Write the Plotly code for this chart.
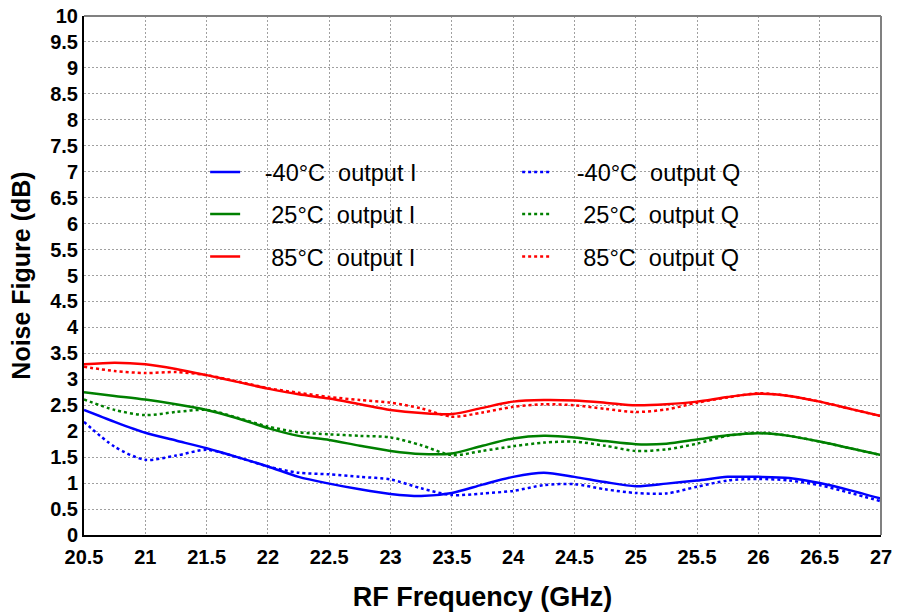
import plotly.graph_objects as go

freq = [20.5, 20.75, 21, 21.25, 21.5, 21.75, 22, 22.25, 22.5, 22.75, 23, 23.25, 23.5,
        23.75, 24, 24.25, 24.5, 24.75, 25, 25.25, 25.5, 25.75, 26, 26.25, 26.5, 26.75, 27]

nf_m40_I = [2.41, 2.18, 1.97, 1.82, 1.67, 1.50, 1.32, 1.12, 0.99, 0.88, 0.79, 0.75, 0.81,
            0.97, 1.12, 1.20, 1.12, 1.02, 0.94, 0.99, 1.05, 1.12, 1.12, 1.10, 1.00, 0.86, 0.70]
nf_m40_Q = [2.18, 1.70, 1.45, 1.53, 1.64, 1.50, 1.32, 1.20, 1.17, 1.12, 1.07, 0.90, 0.77,
            0.80, 0.85, 0.96, 0.98, 0.88, 0.81, 0.80, 0.93, 1.05, 1.08, 1.05, 0.96, 0.81, 0.65]
nf_25_I = [2.75, 2.68, 2.61, 2.52, 2.41, 2.25, 2.06, 1.91, 1.83, 1.72, 1.62, 1.56, 1.57,
           1.72, 1.86, 1.91, 1.88, 1.81, 1.75, 1.76, 1.84, 1.92, 1.96, 1.91, 1.80, 1.67, 1.54]
nf_25_Q = [2.61, 2.41, 2.31, 2.37, 2.41, 2.26, 2.09, 1.98, 1.94, 1.91, 1.88, 1.73, 1.54,
           1.62, 1.71, 1.78, 1.80, 1.72, 1.62, 1.65, 1.76, 1.91, 1.97, 1.91, 1.80, 1.67, 1.54]
nf_85_I = [3.29, 3.32, 3.29, 3.20, 3.08, 2.95, 2.82, 2.71, 2.63, 2.52, 2.41, 2.35, 2.33,
           2.45, 2.57, 2.60, 2.59, 2.55, 2.50, 2.52, 2.57, 2.66, 2.72, 2.68, 2.57, 2.43, 2.29]
nf_85_Q = [3.24, 3.16, 3.12, 3.14, 3.08, 2.96, 2.83, 2.74, 2.66, 2.60, 2.55, 2.44, 2.28,
           2.36, 2.47, 2.52, 2.50, 2.43, 2.37, 2.42, 2.55, 2.65, 2.73, 2.68, 2.57, 2.43, 2.29]

NB = "\u00a0"
series = [
    (NB * 3 + "-40°C" + NB * 2 + "output I", nf_m40_I, "#0000FF", "solid", "legend"),
    (NB * 3 + "-40°C" + NB * 2 + "output Q", nf_m40_Q, "#0000FF", "dot", "legend"),
    (NB * 4 + "25°C" + NB * 2 + "output I", nf_25_I, "#008000", "solid", "legend2"),
    (NB * 4 + "25°C" + NB * 2 + "output Q", nf_25_Q, "#008000", "dot", "legend2"),
    (NB * 4 + "85°C" + NB * 2 + "output I", nf_85_I, "#FF0000", "solid", "legend3"),
    (NB * 4 + "85°C" + NB * 2 + "output Q", nf_85_Q, "#FF0000", "dot", "legend3"),
]

fig = go.Figure()
for name, vals, color, dash, lg in series:
    fig.add_trace(go.Scatter(
        x=freq, y=vals, mode="lines", name=name, legend=lg,
        line=dict(color=color, width=2.5, dash=dash, shape="spline", smoothing=0.8),
    ))

FONT = "Arial, Liberation Sans, sans-serif"
legend_common = dict(
    orientation="h", x=0.152, xanchor="left", yanchor="middle",
    bgcolor="rgba(0,0,0,0)", borderwidth=0,
    font=dict(family=FONT, size=23.5, color="black"),
    entrywidth=267, entrywidthmode="pixels", itemclick=False,
)

fig.update_layout(
    width=900, height=613,
    margin=dict(l=84, r=19, t=16, b=78),
    paper_bgcolor="white", plot_bgcolor="white",
    font=dict(family=FONT, color="black"),
    legend=dict(y=0.699, **legend_common),
    legend2=dict(y=0.618, **legend_common),
    legend3=dict(y=0.536, **legend_common),
    xaxis=dict(
        range=[20.5, 27], dtick=0.5, tick0=20.5, automargin=False,
        showgrid=True, gridcolor="#A0A0A0", gridwidth=1, griddash="2px,2px",
        showline=True, linecolor="black", linewidth=2, zeroline=False,
        ticks="", ticklabelstandoff=3,
        tickfont=dict(family=FONT, size=20, weight="bold", color="black"),
        title=dict(text="RF Frequency (GHz)", standoff=20,
                   font=dict(family=FONT, size=27, weight="bold", color="black")),
    ),
    yaxis=dict(
        range=[0, 10], dtick=0.5, tick0=0, automargin=False,
        showgrid=True, gridcolor="#A0A0A0", gridwidth=1, griddash="2px,2px",
        showline=True, linecolor="black", linewidth=2, zeroline=False,
        ticks="", tickfont=dict(family=FONT, size=20, weight="bold", color="black"),
        title=dict(text="Noise Figure (dB)", standoff=12,
                   font=dict(family=FONT, size=25, weight="bold", color="black")),
    ),
)

# top and right frame lines (gray)
fig.add_shape(type="line", xref="paper", yref="paper", x0=0, x1=1, y0=1, y1=1,
              line=dict(color="#808080", width=2))
fig.add_shape(type="line", xref="paper", yref="paper", x0=1, x1=1, y0=0, y1=1,
              line=dict(color="#808080", width=2))

fig.write_html("out.html")
